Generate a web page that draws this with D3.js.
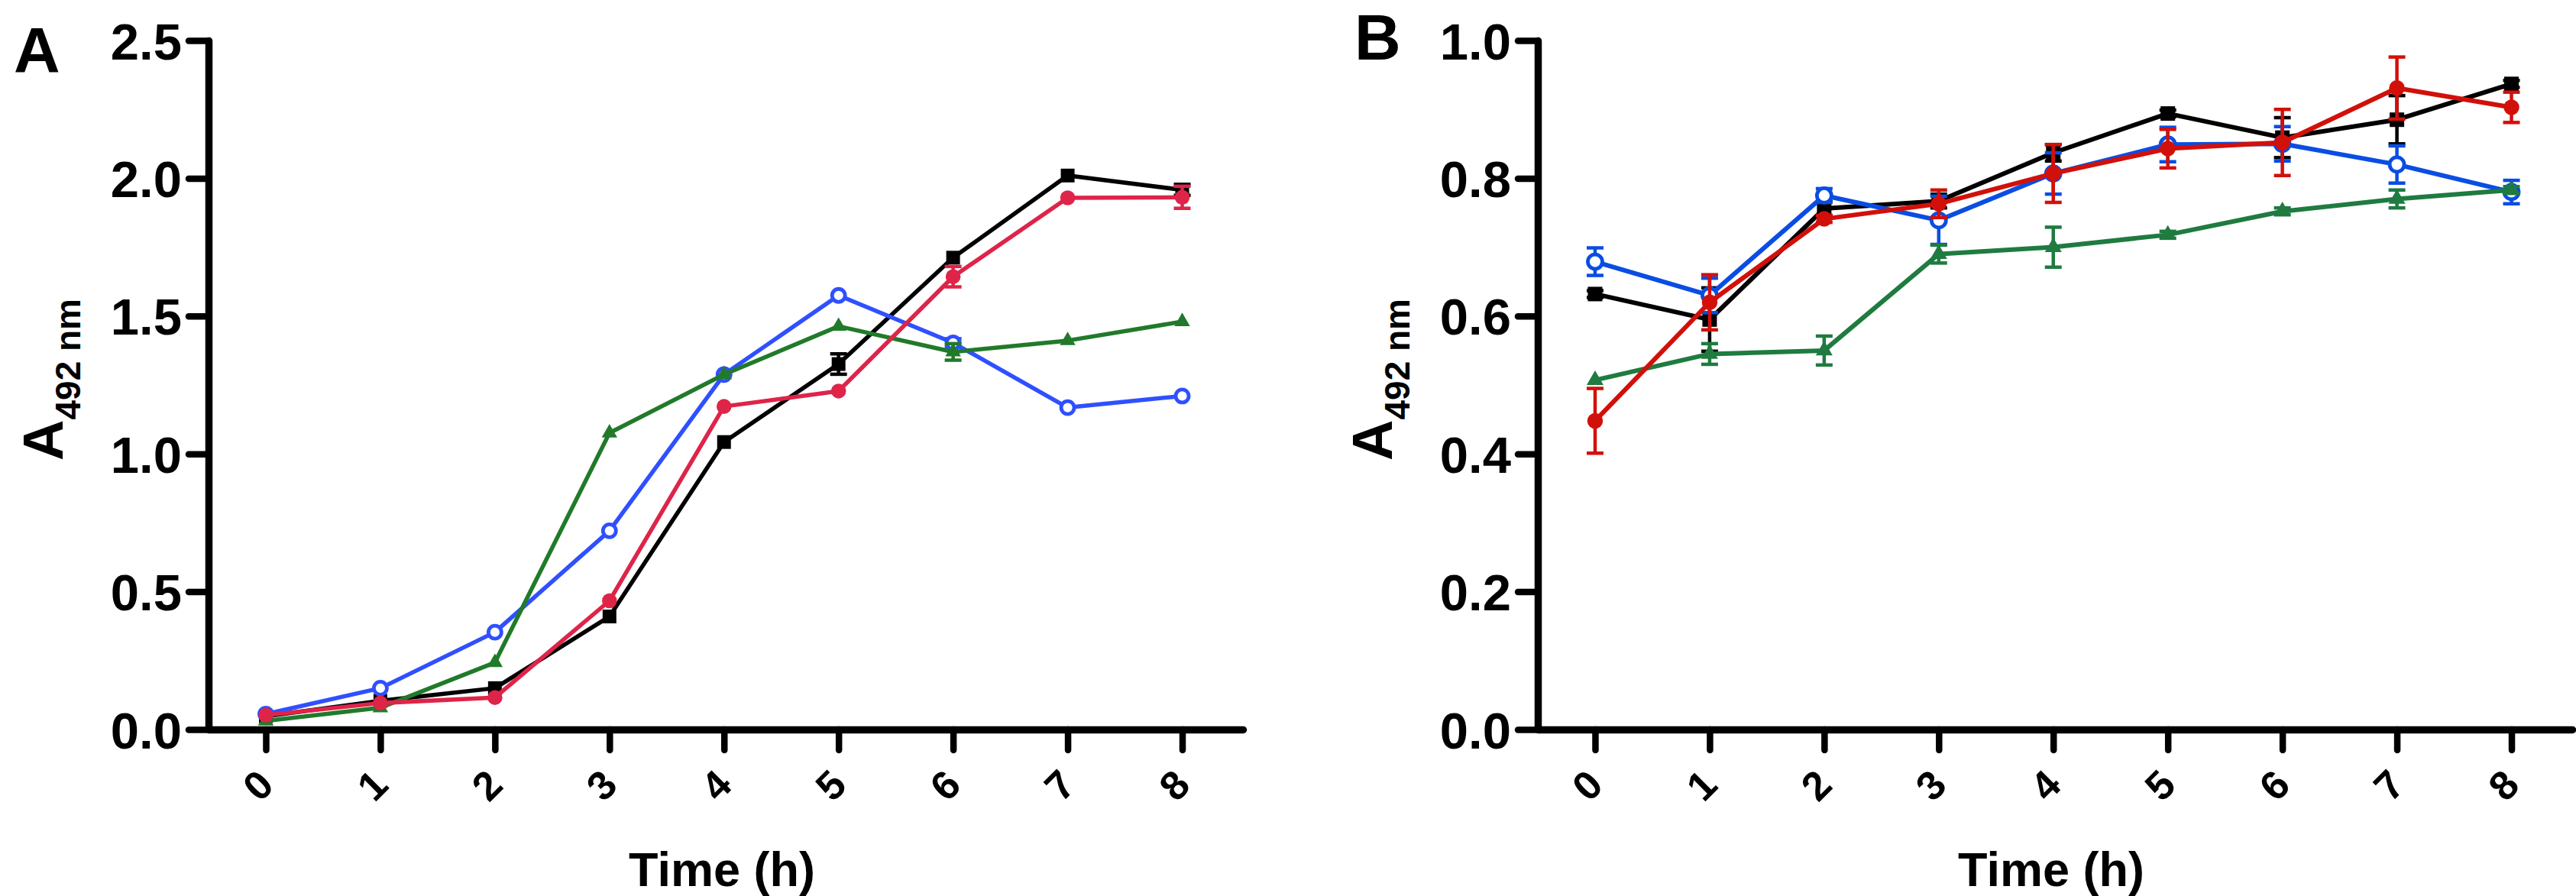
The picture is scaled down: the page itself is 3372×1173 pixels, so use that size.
<!DOCTYPE html>
<html>
    <head>
        <script src="https://cdnjs.cloudflare.com/ajax/libs/d3/7.8.5/d3.min.js"></script>
        <title>A492 growth curves</title>
        <style>
            html, body {
                margin: 0;
                background: #ffffff;
            }
            .svg_canvas {
                display: block;
            }
            text {
                font-family: "Liberation Sans", Arial, sans-serif;
                font-weight: bold;
                fill: #000;
            }
        </style>
    </head>
    <body>
        <svg width="3372" height="1173" class="svg_canvas"></svg>
        <script>

            // time points (h)
            var timeH = [0, 1, 2, 3, 4, 5, 6, 7, 8];

            // panel A
            var aTicks = [0.0, 0.5, 1.0, 1.5, 2.0, 2.5];
            var aBlack = [0.048, 0.104, 0.15, 0.41, 1.043, 1.326, 1.712, 2.01, 1.958];
            var aBlackErr = [0, 0, 0, 0, 0, 0.037, 0, 0, 0.02];
            var aBlue = [0.056, 0.15, 0.353, 0.721, 1.288, 1.575, 1.403, 1.168, 1.21];
            var aBlueErr = [0, 0, 0, 0, 0, 0, 0.015, 0, 0];
            var aGreen = [0.031, 0.079, 0.243, 1.076, 1.288, 1.463, 1.37, 1.411, 1.48];
            var aGreenErr = [0, 0, 0, 0, 0, 0, 0.03, 0, 0];
            var aRed = [0.052, 0.096, 0.116, 0.467, 1.172, 1.228, 1.643, 1.929, 1.931];
            var aRedErr = [0, 0, 0, 0, 0, 0, 0.037, 0, 0.04];

            // panel B
            var bTicks = [0.0, 0.2, 0.4, 0.6, 0.8, 1.0];
            var bBlack = [0.632, 0.595, 0.756, 0.767, 0.837, 0.894, 0.859, 0.885, 0.937];
            var bBlackErr = [0.005, 0.046, 0.01, 0.01, 0.012, 0.005, 0.029, 0.035, 0.005];
            var bBlue = [0.679, 0.630, 0.775, 0.739, 0.807, 0.849, 0.850, 0.820, 0.780];
            var bBlueErr = [0.02, 0.025, 0.01, 0.035, 0.03, 0.025, 0.025, 0.027, 0.017];
            var bGreen = [0.507, 0.545, 0.550, 0.690, 0.700, 0.718, 0.752, 0.770, 0.783];
            var bGreenErr = [0, 0.015, 0.021, 0.013, 0.029, 0.005, 0.005, 0.013, 0.005];
            var bRed = [0.448, 0.620, 0.741, 0.763, 0.807, 0.843, 0.852, 0.931, 0.903];
            var bRedErr = [0.047, 0.04, 0.005, 0.02, 0.042, 0.028, 0.048, 0.045, 0.022];

            var svg = d3.select(".svg_canvas");

            function drawPanel(p) {
                var ox = p.ox;
                var x = d3.scaleLinear().domain([-0.5, 8.53]).range([ox, ox + 1354]);
                var y = d3.scaleLinear().domain([0, p.yMax]).range([955, 53]);
                var g = svg.append("g");

                // axes
                var yAxis = g.append("g")
                    .attr("transform", "translate(" + ox + ",0)")
                    .call(d3.axisLeft(y).tickValues(p.ticks).tickSize(26).tickSizeOuter(0)
                        .tickPadding(9).tickFormat(d3.format(".1f")));
                var xAxis = g.append("g")
                    .attr("transform", "translate(0,955)")
                    .call(d3.axisBottom(x).tickValues(timeH).tickSize(27).tickSizeOuter(0));

                [yAxis, xAxis].forEach(function(a){
                    a.selectAll("path, line")
                        .attr("stroke", "#000")
                        .attr("stroke-linecap", "round");
                    a.select(".domain").attr("stroke-width", 9.5);
                    a.selectAll(".tick line").attr("stroke-width", 8.5);
                });
                yAxis.selectAll("text")
                    .style("font-size", "67px")
                    .attr("dy", "0.36em");
                xAxis.selectAll("text")
                    .style("font-size", "53px")
                    .attr("text-anchor", "middle")
                    .attr("y", 0)
                    .attr("dy", "0.35em")
                    .attr("transform", "translate(-11,73) rotate(-45)");

                // titles
                g.append("text")
                    .attr("x", p.lx)
                    .attr("y", p.ly)
                    .style("font-size", "84px")
                    .text(p.label);

                g.append("text")
                    .attr("x", ox + 672)
                    .attr("y", 1160)
                    .attr("text-anchor", "middle")
                    .style("font-size", "63px")
                    .text("Time (h)");

                var yt = g.append("text")
                    .attr("transform", "translate(" + (ox - 191) + ",497) rotate(-90)")
                    .attr("text-anchor", "middle");
                yt.append("tspan").style("font-size", "74px").text("A");
                yt.append("tspan").style("font-size", "46px").attr("dy", 23).text("492 nm");

                // series
                p.series.forEach(function(s){
                    var sg = g.append("g");
                    var pts = timeH.map(function(t, i){
                        return {t: t, v: s.values[i], e: s.err[i]};
                    });

                    sg.append("path")
                        .datum(pts)
                        .attr("fill", "none")
                        .attr("stroke", s.color)
                        .attr("stroke-width", p.lineW)
                        .attr("stroke-linejoin", "round")
                        .attr("d", d3.line()
                            .x(function(d){ return x(d.t); })
                            .y(function(d){ return y(d.v); }));

                    var eb = sg.selectAll(".err")
                        .data(pts.filter(function(d){ return d.e > 0; }))
                        .enter()
                        .append("g")
                        .attr("stroke", s.color)
                        .attr("stroke-width", 4.5);
                    eb.append("line")
                        .attr("x1", function(d){ return x(d.t); })
                        .attr("x2", function(d){ return x(d.t); })
                        .attr("y1", function(d){ return y(d.v - d.e); })
                        .attr("y2", function(d){ return y(d.v + d.e); });
                    [-1, 1].forEach(function(sgn){
                        eb.append("line")
                            .attr("x1", function(d){ return x(d.t) - 11; })
                            .attr("x2", function(d){ return x(d.t) + 11; })
                            .attr("y1", function(d){ return y(d.v + sgn * d.e); })
                            .attr("y2", function(d){ return y(d.v + sgn * d.e); });
                    });

                    if (s.shape === "open") {
                        sg.selectAll(".mk")
                            .data(pts)
                            .enter()
                            .append("circle")
                            .attr("cx", function(d){ return x(d.t); })
                            .attr("cy", function(d){ return y(d.v); })
                            .attr("r", p.openR)
                            .attr("fill", "#fff")
                            .attr("stroke", s.color)
                            .attr("stroke-width", 4.8);
                    } else {
                        var sym = d3.symbol()
                            .type(s.shape === "square" ? d3.symbolSquare :
                                  s.shape === "triangle" ? d3.symbolTriangle : d3.symbolCircle)
                            .size(s.shape === "square" ? p.sqSize :
                                  s.shape === "triangle" ? p.triSize : p.dotSize);
                        sg.selectAll(".mk")
                            .data(pts)
                            .enter()
                            .append("path")
                            .attr("d", sym)
                            .attr("fill", s.color)
                            .attr("transform", function(d){
                                return "translate(" + x(d.t) + "," + y(d.v) + ")";
                            });
                    }
                });
            }

            drawPanel({
                ox: 273, yMax: 2.5, ticks: aTicks, label: "A", lx: 18, ly: 95,
                lineW: 5.5, openR: 8.5, sqSize: 324, triSize: 180, dotSize: 300,
                series: [
                    {values: aBlack, err: aBlackErr, color: "#000000", shape: "square"},
                    {values: aBlue, err: aBlueErr, color: "#2f50ff", shape: "open"},
                    {values: aGreen, err: aGreenErr, color: "#217a2a", shape: "triangle"},
                    {values: aRed, err: aRedErr, color: "#de2449", shape: "dot"}
                ]
            });

            drawPanel({
                ox: 2013, yMax: 1.0, ticks: bTicks, label: "B", lx: 1773, ly: 78,
                lineW: 6, openR: 9.5, sqSize: 361, triSize: 210, dotSize: 330,
                series: [
                    {values: bBlack, err: bBlackErr, color: "#000000", shape: "square"},
                    {values: bBlue, err: bBlueErr, color: "#0a4de3", shape: "open"},
                    {values: bGreen, err: bGreenErr, color: "#1f7b40", shape: "triangle"},
                    {values: bRed, err: bRedErr, color: "#d2100a", shape: "dot"}
                ]
            });

        </script>
    </body>
</html>
